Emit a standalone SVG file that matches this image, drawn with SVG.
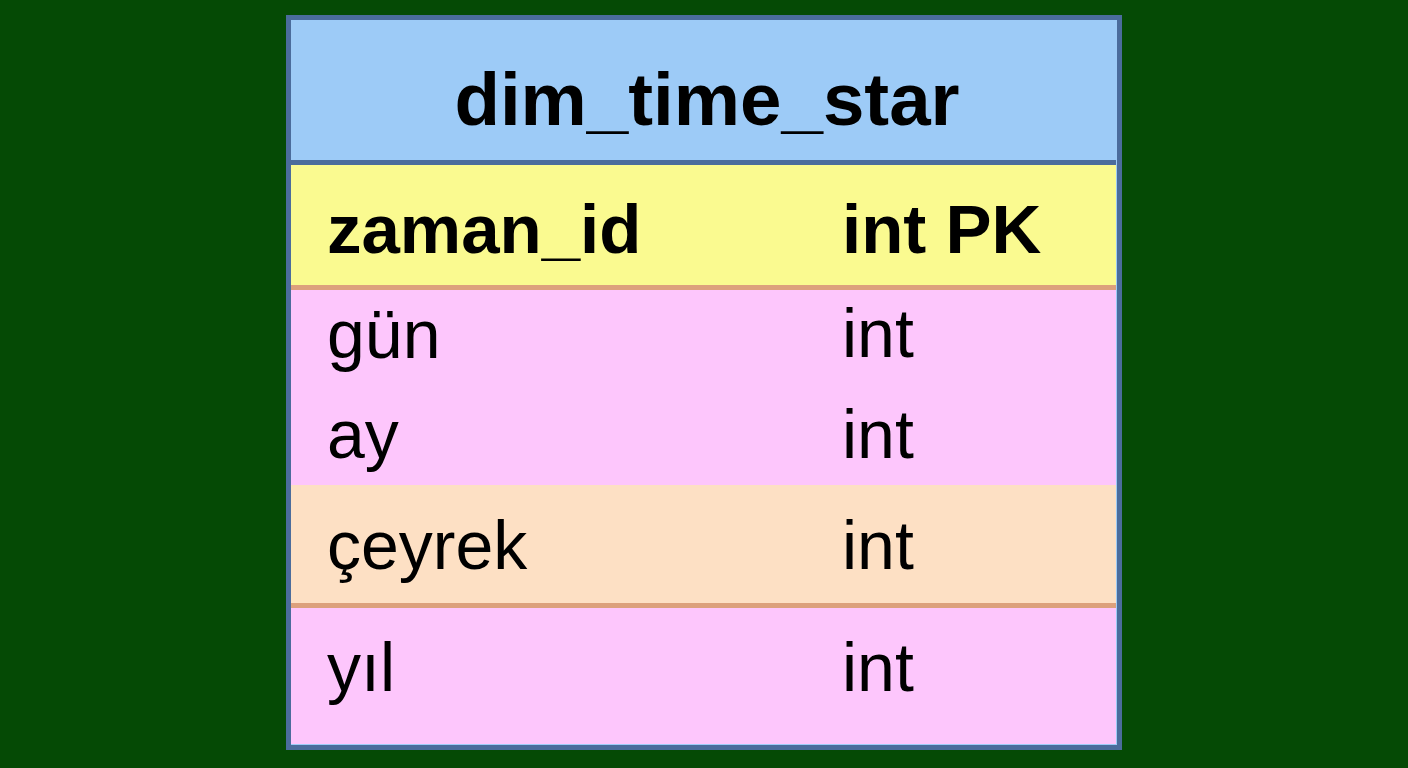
<svg xmlns="http://www.w3.org/2000/svg" width="1408" height="768" viewBox="0 0 1408 768">
<style>
.t{font-family:"Liberation Sans",Arial,sans-serif;fill:#000;font-size:68px}
.b{font-weight:bold;font-size:69px}
</style>
<rect width="1408" height="768" fill="#054a05"/>
<g id="table-dim_time_star">
<rect x="288.5" y="17.5" width="831" height="730" fill="#9dcbf7" stroke="#4b6c9c" stroke-width="5"/>
<rect x="291" y="160" width="825" height="5" fill="#4b6c9c"/>
<rect x="291" y="165" width="825" height="120" fill="#fafa90"/>
<rect x="291" y="285" width="825" height="5" fill="#dca07c"/>
<rect x="291" y="290" width="825" height="195" fill="#fdc6fc"/>
<rect x="291" y="485" width="825" height="118" fill="#fde0c4"/>
<rect x="291" y="603" width="825" height="5" fill="#dca07c"/>
<rect x="291" y="608" width="825" height="136" fill="#fdc6fc"/>
<text class="t b" x="707" y="125" text-anchor="middle" style="font-size:74.5px">dim_time_star</text>
<text class="t b" x="327" y="253">zaman_id</text>
<text class="t b" x="842" y="253">int PK</text>
<text class="t" x="327" y="358">gün</text>
<text class="t" x="842" y="357">int</text>
<text class="t" x="327" y="458">ay</text>
<text class="t" x="842" y="458">int</text>
<text class="t" x="327" y="569">çeyrek</text>
<text class="t" x="842" y="569">int</text>
<text class="t" x="327" y="691">yıl</text>
<text class="t" x="842" y="691">int</text>
</g>
<g id="connectors"/>
</svg>
